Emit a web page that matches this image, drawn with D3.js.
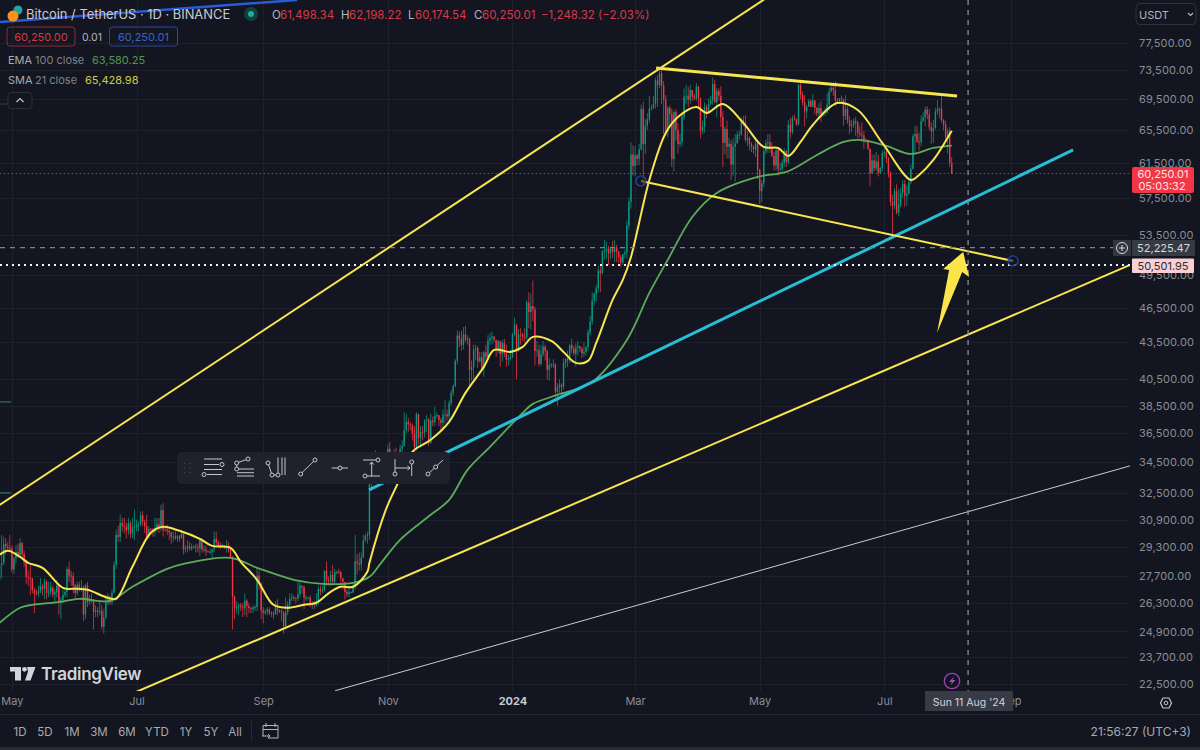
<!DOCTYPE html>
<html>
<head>
<meta charset="utf-8">
<title>Bitcoin / TetherUS 1D</title>
<script src="https://cdn.jsdelivr.net/npm/d3@7/dist/d3.min.js"></script>
<style>
  html, body { margin: 0; padding: 0; background: #131620; overflow: hidden; }
  text { font-family: Inter, Roboto, sans-serif; }
</style>
</head>
<body>
<svg id="chart" width="1200" height="750"></svg>
<script>
// Daily candles from 25 Apr 2023 to 3 Aug 2024, quoted in hundreds of USDT.
const firstDay = Date.UTC(2023, 3, 25);
const firstOpen = 275.1;
const closes = [
  283,284.2,294.7,293.4,292.4,292.3,
  280.7,286.7,290.3,288.5,295.3,289,284.5,276.6,276.3,275.9,269.7,268,267.8,269.3,271.7,270.3,274,268.3,268.9,271,267.5,268.5,272.2,263.3,264.7,267.2,268.7,280.8,277.4,277,272.1,
  268.2,272.5,270.7,271.2,257.3,272.3,263.4,265,264.8,258.5,259.2,259,259,251.2,255.8,263.3,265.1,263.4,268.4,283.1,300,298.9,306.9,305.3,304.7,302.7,306.9,300.8,304.5,304.7,
  305.9,306.2,311.6,307.7,305.1,298.9,303.5,302.9,301.7,304.1,306.2,303.8,314.7,303.1,303,302.5,301.4,298.6,299.1,298,299.1,298,300.8,291.8,292.3,293.5,292.1,293.2,293.5,292.8,292.3,
  297,291.7,291.8,290.7,290.4,290.4,291.8,297.7,295.6,294.3,294,294.2,292.8,294,291.7,287.3,266.2,260.5,260.9,261.9,261.2,260.4,264.3,261.6,260.5,260,260.9,261,277.3,273,259.3,
  258,258.7,259.7,258.1,257.8,257.5,262.4,259,258.9,258.3,251.6,258.4,262.2,265.3,266,265.7,265.3,267.6,272.1,271.3,265.7,265.8,265.8,262.5,263,262.1,263.5,270.3,269.1,269.7,
  279.9,275,274.3,277.8,274.1,279.3,279.5,279.2,275.9,273.9,268.8,267.6,268.6,268.6,271.5,285,284,283.3,287.2,296.8,299.2,299.9,330.8,339,345,341.5,339,340.9,345.3,344.8,346.4,
  354.2,349.4,347.3,350.8,350.5,350.5,354.2,356.2,367,373.1,371.3,370.6,364.9,355.5,378.8,361.6,366,365.7,373.6,374.8,358.1,374.1,372.9,377.2,377.9,374.5,372.4,378.2,378.5,377.1,
  386.9,394.6,399.7,419.8,440.8,437.7,432.9,441.7,437.2,437.9,412.4,414.5,428.9,430.2,419.4,422.6,413.7,426.6,422.7,436.5,438.6,439.9,437.2,430.1,435.8,425.2,434.4,425.8,420.7,421.4,422.8,
  441.8,449.5,428.5,441.8,441.6,439.7,439.3,469.7,461.2,466.5,463.4,427.8,428.4,417.3,425.1,431.4,427.7,412.6,416.2,416.7,416.9,395.3,399,400.8,399.3,418.1,421.2,420.3,433,429.5,425.8,
  430.8,431.9,429.9,425.8,427,430.9,443.4,452.9,471.3,477.5,482.9,499.6,497,518.3,519.1,521.2,516.4,521.4,517.8,522.6,518.5,513,507.3,515.7,517.3,544.8,570.4,625,611.3,
  623.9,619.9,631.3,682.5,638,660.7,668.7,683,683.6,689.5,721,714.5,730.7,713.8,695,653,683.9,676,619.4,678.4,655,638,640.4,672.1,698.8,699.9,694.5,707.8,698.9,696.5,712.8,
  696.5,654.6,659.6,684.9,678.2,689,693.6,716.2,691.5,706.3,700.1,671.9,639.2,656.6,634.2,637.9,612.8,634.7,638.2,649.4,649.4,668.4,664.1,642.8,645,637.7,634.6,631.2,638.4,606.4,
  582.5,591.2,628.9,638.9,640.3,631.6,623.3,611.9,630.5,607.9,608.2,614.8,629.4,615.8,662.1,652.3,670.5,669.2,662.7,714.5,701.3,691.2,679.3,685.2,692.9,685.1,693.9,683.7,676.4,683.6,674.9,
  677.5,677.6,688,705.7,710.8,707.6,693.5,693.1,696.5,695,673.2,682.4,667.5,660.1,661.9,666.4,664.9,651.5,649.6,648.3,641,642.6,632.1,602.8,618,608.6,616.7,603.2,608.9,626.8,
  627.7,620.3,602,570.4,566.3,582.3,558.6,567.1,580.5,590.6,577.2,579,592.3,608,647.2,650.4,640.9,639.9,666.6,671.5,681.6,675.3,659.3,653.7,657.8,679,682.4,682.4,667.8,661.9,646.2,
  653.5,614.9834,602.5001
];
const highs = [
  284,300,299,298,296,300,
  294,288,294,295,298,296,291,285,280,283,276,271,270,272,276,273,276,275,274,274,272,270,275,273,266,270,270,282,285,280,279,
  273,274,274,275,272,273,274,267,268,265,262,261,264,262,260,267,268,267,270,285,303,305,312,310,310,307,310,308,310,315,
  309,308,314,314,309,312,305,304,304,310,310,310,318,319,304,306,303,302,302,302,300,300,303,300,294,297,296,295,294,295,295,
  298,298,294,294,291,292,292,302,302,297,296,295,294,297,296,292,288,267,264,263,263,263,268,265,263,261,262,262,282,280,274,
  261,260,261,261,259,259,264,265,260,260,259,266,264,268,268,267,266,274,275,272,272,267,266,267,264,264,268,272,272,272,
  280,285,277,280,283,281,280,281,280,276,274,270,272,269,273,300,289,290,290,300,301,302,340,350,349,353,343,343,349,350,347,
  357,359,350,354,355,352,357,360,380,379,376,373,372,370,380,379,370,370,375,378,376,379,377,384,380,378,376,382,389,382,
  389,397,401,421,445,444,445,448,449,441,439,420,433,433,432,427,427,428,433,441,443,444,440,437,437,436,437,438,433,425,429,
  443,456,451,446,447,443,447,472,479,478,490,466,436,433,433,436,433,429,422,418,421,418,402,405,402,422,422,428,433,438,432,
  434,436,432,431,435,432,446,458,479,479,486,504,506,520,530,528,524,522,529,530,525,518,515,516,520,550,575,640,636,
  635,626,638,688,692,670,677,700,688,700,725,729,735,737,720,701,686,687,683,680,682,664,651,677,710,715,712,715,708,702,717,
  713,698,667,691,688,696,700,725,722,710,710,713,680,660,667,645,642,645,650,654,654,671,673,674,654,647,640,636,645,642,
  608,595,633,643,650,650,640,628,631,634,615,619,633,630,668,671,674,675,670,716,720,706,701,688,696,695,702,693,685,690,693,
  680,684,703,711,718,716,720,697,697,700,696,701,686,673,668,670,672,667,660,665,654,645,643,632,625,625,628,625,610,630,
  632,630,622,605,578,586,590,584,586,595,595,589,596,613,650,661,660,652,674,678,685,686,682,665,668,684,694,685,700,669,667,
  657,659,621.9822
];
const lows = [
  275,276,283,289,291,291,
  279,278,284,287,288,286,282,273,272,267,268,258,267,266,268,267,265,265,266,267,266,263,266,257,255,263,266,266,274,272,268,
  265,267,269,269,254,255,261,262,263,250,256,256,257,250,248,255,262,262,262,268,281,296,296,302,301,298,300,298,298,297,
  302,302,305,305,301,297,298,300,299,299,302,301,302,299,302,300,297,295,296,297,296,296,298,289,290,290,291,291,292,290,290,
  288,290,290,288,290,289,287,290,293,293,292,293,292,290,290,287,250,255,258,257,259,256,257,256,258,258,258,259,259,270,255,
  253,257,257,257,256,255,257,257,258,254,248,250,257,261,264,264,263,264,266,268,260,264,265,261,260,260,261,262,267,268,
  269,272,272,272,272,273,278,278,272,270,265,266,266,268,268,270,278,280,280,287,296,295,297,327,335,333,336,337,339,340,341,
  342,345,340,345,346,345,348,351,356,365,366,367,360,352,353,357,355,360,362,366,356,358,370,370,376,370,366,367,372,374,
  374,385,392,399,417,431,428,429,435,433,400,404,405,420,414,418,412,407,420,421,433,433,435,423,426,415,419,423,415,416,420,
  422,440,405,427,433,436,435,437,447,446,453,416,423,415,416,423,420,405,404,414,414,391,385,394,392,397,414,415,418,426,424,
  415,424,427,422,423,424,428,441,450,467,471,479,479,496,510,511,505,511,512,508,508,507,503,505,512,511,541,563,600,
  600,612,612,630,590,626,655,665,680,682,683,685,710,689,650,648,646,660,610,605,642,626,634,635,668,689,685,689,693,694,693,
  682,645,650,652,670,676,687,688,690,672,694,659,610,625,620,620,595,600,593,639,643,648,660,640,635,630,628,626,622,596,
  568,570,587,625,627,627,622,606,606,600,603,605,610,610,613,645,650,667,660,661,695,687,660,670,688,685,685,675,673,670,665,
  672,673,676,680,705,700,686,691,692,690,661,668,663,650,653,658,648,645,646,640,632,639,630,588,603,605,606,599,605,605,
  622,615,598,566,535,562,557,555,565,575,565,566,579,590,607,628,639,630,635,665,660,669,655,638,639,656,675,670,665,655,643,
  626,610,601.7454
];

// SMA 21 and EMA 100, read as (day number, price) pairs.
const smaDays = [0,4,10,14,21,31,38,43,53,57,65,74,80,88,98,104,113,118,126,134,141,149,155,162,167,173,180,181,189,195,202,211,220,228,237,242,250,256,261,270,276,282,288,292,300,305,309,318,326,332,341,346,354,364,374,381,386,392,398,410,420,432,446,450,457,466];
const smaPrices = [28869,29092,28757,28427,28154,27089,27037,26985,26572,26521,28208,30120,30471,30237,29774,29374,29261,28482,27511,26216,26064,26216,26317,26881,27142,27142,27938,28427,31487,33170,35214,36039,37312,39458,41486,42869,42704,43118,43958,43620,42704,41808,41970,43452,47209,49066,51292,59503,65149,67190,68500,67711,68897,66418,63414,63292,62323,64028,66163,69030,68103,63905,59503,60080,61844,65428.98];
const emaDays = [0,10,16,30,39,54,65,82,90,113,126,144,158,173,181,186,196,211,220,229,240,256,261,273,290,307,318,327,339,351,371,385,400,413,421,434,446,457,466];
const emaPrices = [25321,26064,26216,26368,26521,26419,27142,28100,28372,28703,28154,27511,27299,27352,27670,28317,29717,31185,32100,34012,35556,37964,38630,39306,40304,43704,47851,50996,55406,58030,59849,60430,62443,64028,64275,63535,62564,63292,63580.25];

// Trend lines and channels: start day, start price, end day, end price.
const upperChannel = [0, 31792, 377.1, 84940];
const lowerChannel = [65.3, 22102, 553.3, 50501.95];
const outerLine = [164.2, 22210, 553.3, 34275];
const supportLine = [180.8, 32725, 525.4, 63048];
const wedgeTop = [321.3, 73851, 468.6, 69968];
const wedgeBottom = [313.9, 59389, 496, 50898];
const oldBlueLine = [0, 80700, 145.6, 84200];
const oldLevelA = [0, 38779, 5.6, 38779];
const oldLevelB = [0, 32536, 5.6, 32536];

// Arrow annotation outline as (day, price) vertices.
const arrowDays = [471.6, 474.5, 471.1, 458.8, 464.7, 461.8];
const arrowPrices = [51790, 49351, 49829, 44298, 50022, 50119];

const lastPrice = 60250.01;
const crosshairPrice = 52225.47;
const alertPrice = 50501.95;
const crosshairDay = 474;

const priceTicks = [77500,73500,69500,65500,61500,57500,53500,49500,46500,43500,40500,38500,36500,34500,32500,30900,29300,27700,26300,24900,23700,22500];
const monthTicks = [[2023,4,"May"],[2023,6,"Jul"],[2023,8,"Sep"],[2023,10,"Nov"],[2024,0,"2024"],[2024,2,"Mar"],[2024,4,"May"],[2024,6,"Jul"],[2024,8,"Sep"]];
const rangeTabs = [["1D",20],["5D",45],["1M",72],["3M",99],["6M",127],["YTD",157],["1Y",186],["5Y",211],["All",235]];

if (highs.length !== closes.length || lows.length !== closes.length) {
  throw new Error(`series lengths ${closes.length} ${highs.length} ${lows.length}`);
}

const dayMs = 86400000;
const dayToDate = d => new Date(firstDay + d * dayMs);
const plotRight = 1130, plotBottom = 691;

const x = d3.scaleUtc().domain([dayToDate(0), new Date(Date.UTC(2024, 8, 1))]).range([-0.38, 1011]);
const y = d3.scaleLog().domain([22500, 77500]).range([684, 43]);
const xd = d => x(dayToDate(d));

const candles = closes.map((c, i) => ({
  day: i,
  open: (i ? closes[i - 1] : firstOpen) * 100,
  close: c * 100,
  high: highs[i] * 100,
  low: lows[i] * 100
}));

const UP = "#089981", DOWN = "#f23645", YELLOW = "#f7e64f", GREEN = "#5cab5a";
const BG = "#131620", GRID = "#1e212c", MUTED = "#8a8d96";

const svg = d3.select("#chart");
svg.append("rect").attr("width", 1200).attr("height", 750).attr("fill", BG);
svg.append("defs").append("clipPath").attr("id", "plot")
  .append("rect").attr("width", plotRight).attr("height", plotBottom);

// Grid
const gridG = svg.append("g").attr("stroke", GRID).attr("stroke-width", 1);
gridG.selectAll("line.h").data(priceTicks).join("line").attr("class", "h")
  .attr("x1", 0).attr("x2", plotRight)
  .attr("y1", d => Math.round(y(d)) + .5).attr("y2", d => Math.round(y(d)) + .5);
gridG.selectAll("line.v").data(monthTicks).join("line").attr("class", "v")
  .attr("x1", d => Math.round(x(new Date(Date.UTC(d[0], d[1], 1)))) + .5)
  .attr("x2", d => Math.round(x(new Date(Date.UTC(d[0], d[1], 1)))) + .5)
  .attr("y1", 0).attr("y2", plotBottom);

const plot = svg.append("g").attr("clip-path", "url(#plot)");

// Old levels and long-range line sitting behind everything else
function segment(parent, seg, color, width, extra) {
  const sel = parent.append("line")
    .attr("x1", xd(seg[0])).attr("y1", y(seg[1]))
    .attr("x2", xd(seg[2])).attr("y2", y(seg[3]))
    .attr("stroke", color).attr("stroke-width", width);
  if (extra) sel.attr("stroke-dasharray", extra);
  return sel;
}
segment(plot, oldLevelA, "#2b615e", 1.5);
segment(plot, oldLevelB, "#2b615e", 1.5);
segment(plot, oldBlueLine, "#2a5bd7", 2.5);

// Last price level
segment(plot, [0, lastPrice, 1130 / 2.043, lastPrice], "#a33a48", 1, "1.5 2.5");

// Candles
const candleG = plot.append("g");
candleG.selectAll("rect.wick").data(candles).join("rect").attr("class", "wick")
  .attr("x", d => xd(d.day) - .4).attr("width", .8)
  .attr("y", d => y(d.high)).attr("height", d => Math.max(.5, y(d.low) - y(d.high)))
  .attr("fill", d => d.close >= d.open ? UP : DOWN).attr("opacity", .9);
candleG.selectAll("rect.body").data(candles).join("rect").attr("class", "body")
  .attr("x", d => xd(d.day) - .7).attr("width", 1.4)
  .attr("y", d => y(Math.max(d.open, d.close)))
  .attr("height", d => Math.max(1, Math.abs(y(d.open) - y(d.close))))
  .attr("fill", d => d.close >= d.open ? UP : DOWN);

// Moving averages
const maLine = d3.line().x(d => xd(d[0])).y(d => y(d[1])).curve(d3.curveCatmullRom.alpha(.5));
plot.append("path").attr("d", maLine(d3.zip(emaDays, emaPrices)))
  .attr("fill", "none").attr("stroke", GREEN).attr("stroke-width", 1.8);
plot.append("path").attr("d", maLine(d3.zip(smaDays, smaPrices)))
  .attr("fill", "none").attr("stroke", YELLOW).attr("stroke-width", 2);

// Drawn trend lines
segment(plot, outerLine, "#c9cbd1", 1);
segment(plot, upperChannel, YELLOW, 2);
segment(plot, lowerChannel, YELLOW, 2);
segment(plot, supportLine, "#27bdd4", 3);
segment(plot, wedgeTop, YELLOW, 3);
segment(plot, wedgeBottom, YELLOW, 2);

// Crosshair, alert line
plot.append("line").attr("x1", 0).attr("x2", 1114)
  .attr("y1", y(crosshairPrice)).attr("y2", y(crosshairPrice))
  .attr("stroke", "#7f828b").attr("stroke-width", 1.2).attr("stroke-dasharray", "5 5");
plot.append("line").attr("x1", 0).attr("x2", plotRight)
  .attr("y1", y(alertPrice)).attr("y2", y(alertPrice))
  .attr("stroke", "#f2f3f5").attr("stroke-width", 2).attr("stroke-dasharray", "2 4");
plot.append("line").attr("x1", xd(crosshairDay)).attr("x2", xd(crosshairDay))
  .attr("y1", 0).attr("y2", plotBottom)
  .attr("stroke", "#8a8d96").attr("stroke-width", 1.3).attr("stroke-dasharray", "5 5");

// Wedge end handles
[[wedgeBottom[0], wedgeBottom[1]], [wedgeBottom[2], wedgeBottom[3]]].forEach(p => {
  plot.append("circle").attr("cx", xd(p[0])).attr("cy", y(p[1])).attr("r", 5)
    .attr("fill", BG).attr("fill-opacity", .6).attr("stroke", "#2447a8").attr("stroke-width", 1.3);
});

// Arrow annotation
plot.append("polygon")
  .attr("points", d3.zip(arrowDays, arrowPrices).map(p => `${xd(p[0])},${y(p[1])}`).join(" "))
  .attr("fill", "#fbe54a");

// Price axis
const yAxis = d3.axisRight(y).tickValues(priceTicks).tickFormat(d3.format(",.2f")).tickSize(0).tickPadding(0);
const yAxisG = svg.append("g").attr("transform", "translate(1139,0)").call(yAxis);
yAxisG.select(".domain").remove();
yAxisG.selectAll("text").attr("fill", MUTED).attr("font-size", 11).attr("font-family", "Inter, Roboto, sans-serif").attr("letter-spacing", .15);

// Time axis
const xAxis = d3.axisBottom(x)
  .tickValues(monthTicks.map(d => new Date(Date.UTC(d[0], d[1], 1))))
  .tickFormat((_, i) => monthTicks[i][2]).tickSize(0).tickPadding(0);
const xAxisG = svg.append("g").attr("transform", "translate(0,697)").call(xAxis);
xAxisG.select(".domain").remove();
xAxisG.selectAll("text").attr("fill", MUTED).attr("font-size", 11).attr("font-family", "Inter, Roboto, sans-serif")
  .attr("font-weight", (_, i) => monthTicks[i][2] === "2024" ? 700 : 400)
  .filter((_, i) => monthTicks[i][2] === "2024").attr("fill", "#c7c9d0");

function label(text, px, py, size, color, anchor, weight) {
  return svg.append("text").text(text).attr("x", px).attr("y", py)
    .attr("font-size", size).attr("fill", color)
    .attr("text-anchor", anchor || "start").attr("font-weight", weight || 400);
}

// Price tags on the right edge
svg.append("rect").attr("x", 1132).attr("y", 167).attr("width", 62).attr("height", 26).attr("rx", 2).attr("fill", "#f23645");
label(d3.format(",.2f")(lastPrice), 1163, 178, 11, "#f5e6e8", "middle");
label("05:03:32", 1162, 190, 11, "#f5e6e8", "middle");
svg.append("rect").attr("x", 1113).attr("y", 240).attr("width", 18).attr("height", 16).attr("fill", "#333640");
svg.append("circle").attr("cx", 1122).attr("cy", 248).attr("r", 5.5).attr("fill", "none").attr("stroke", "#d6d8dd").attr("stroke-width", 1);
svg.append("path").attr("d", "M1119 248H1125M1122 245V251").attr("stroke", "#d6d8dd").attr("stroke-width", 1);
svg.append("rect").attr("x", 1132).attr("y", 240).attr("width", 63).attr("height", 16).attr("fill", "#363a45");
label(d3.format(",.2f")(crosshairPrice), 1163.5, 252, 11, "#d6d8dd", "middle");
svg.append("rect").attr("x", 1132).attr("y", 258.5).attr("width", 62).attr("height", 14.5).attr("rx", 1).attr("fill", "#f9cfd3");
label(d3.format(",.2f")(alertPrice), 1163, 270, 11, "#2a2e39", "middle");

// Currency selector
svg.append("rect").attr("x", 1136).attr("y", 3.5).attr("width", 60).attr("height", 21).attr("rx", 4)
  .attr("fill", "none").attr("stroke", "#2e323d");
label("USDT", 1139, 18.5, 11, "#b2b5be");
svg.append("path").attr("d", "M1188 13L1190.5 15.5L1193 13").attr("fill", "none").attr("stroke", "#b2b5be").attr("stroke-width", 1.2);

// Drawing toolbar
const tb = svg.append("g");
tb.append("rect").attr("x", 177).attr("y", 452).attr("width", 273).attr("height", 32).attr("rx", 5).attr("fill", "#1f222c");
[463.5, 468, 472.5].forEach(gy => [185, 190].forEach(gx => {
  tb.append("circle").attr("cx", gx).attr("cy", gy).attr("r", .7).attr("fill", "#4a4d57");
}));
const iconPaths = [
  "M204 459H222M204 464.5H219M204 469.5H222M207 474.5H222",
  "M236.7 463L248 459M236.7 463V469M237 469H254M237 472.7H254M237 476H254",
  "M268 463L272 475L278 475M278 457.5V475M282 457.5V475M285 457.5V475",
  "M300.7 474L315 460",
  "M331.7 468H348",
  "M363 460H378M365 476H380M371.7 476V462M369.7 464.5L371.7 462L373.7 464.5",
  "M395 459V474M411.7 462V476M395 468H410M407.5 466L410 468L407.5 470",
  "M428 474L443 460"
];
tb.selectAll("path").data(iconPaths).join("path").attr("d", d => d)
  .attr("fill", "none").attr("stroke", "#c4c6cc").attr("stroke-width", 1);
const iconDots = [[222,464.5],[204,474.5],[236.7,463],[248,459],[236.7,469],[268,463],[272,475],[278,475],[300.7,474],[315,460],[340,468],[378,460],[365,476],[395,474],[411.7,462],[428,474],[435.7,467]];
tb.selectAll("circle.d").data(iconDots).join("circle").attr("class", "d")
  .attr("cx", d => d[0]).attr("cy", d => d[1]).attr("r", 2)
  .attr("fill", "#1f222c").attr("stroke", "#c4c6cc").attr("stroke-width", 1);

// Watermark
const wm = svg.append("g").attr("fill", "#d1d4dc");
wm.append("path").attr("d", "M10 667H21V680.5H15V671.5H10ZM27 667H35.5L30.5 680.5H25L28 671.5Z");
wm.append("circle").attr("cx", 24.5).attr("cy", 669.3).attr("r", 2.4);
label("TradingView", 41, 679.5, 17, "#d1d4dc", "start", 600).attr("letter-spacing", -.3);

// Header
const head = svg.append("g");
head.append("circle").attr("cx", 18).attr("cy", 10).attr("r", 4.5).attr("fill", "#1fa5a0");
head.append("circle").attr("cx", 13).attr("cy", 16).attr("r", 5.5).attr("fill", "#f7931a");
label("Bitcoin / TetherUS · 1D · BINANCE", 26, 18.5, 12.9, "#c9cbd2");
head.append("circle").attr("cx", 251).attr("cy", 14).attr("r", 7).attr("fill", "#12403f");
head.append("circle").attr("cx", 251).attr("cy", 14).attr("r", 3).attr("fill", "#22ab94");
const ohlc = [["O","61,498.34",272,280],["H","62,198.22",341,349],["L","60,174.54",408,415],["C","60,250.01",474,482]];
ohlc.forEach(o => {
  label(o[0], o[2], 18.5, 11.5, "#b2b5be");
  label(o[1], o[3], 18.5, 11.5, "#d9394a");
});
label("−1,248.32 (−2.03%)", 541, 18.5, 11.5, "#d9394a");

svg.append("rect").attr("x", 7).attr("y", 27).attr("width", 68).attr("height", 19).attr("rx", 3).attr("fill", "none").attr("stroke", "#8f2a38");
label("60,250.00", 41, 41, 11, "#d43a4b", "middle");
label("0.01", 92, 41, 10.5, "#b2b5be", "middle");
svg.append("rect").attr("x", 109.5).attr("y", 27).attr("width", 68).attr("height", 19).attr("rx", 3).attr("fill", "none").attr("stroke", "#28479f");
label("60,250.01", 143.5, 41, 11, "#3b62c9", "middle");

label("EMA", 8, 64, 11, "#a8abb3");
label("100 close", 35, 64, 11, "#7f828b");
label("63,580.25", 92, 64, 11, "#4a9a50");
label("SMA", 8, 84, 11, "#a8abb3");
label("21 close", 35, 84, 11, "#7f828b");
label("65,428.98", 85, 84, 11, "#d6c94a");

svg.append("path").attr("d", "M0 104H8").attr("stroke", "#3a3d47");
svg.append("rect").attr("x", 8).attr("y", 92.5).attr("width", 24).attr("height", 16).attr("rx", 3).attr("fill", BG).attr("stroke", "#2b2e38");
svg.append("path").attr("d", "M16.5 102L20 98.5L23.5 102").attr("fill", "none").attr("stroke", "#c4c6cc").attr("stroke-width", 1.2);

// Event marker and crosshair date
svg.append("circle").attr("cx", 952).attr("cy", 681).attr("r", 7.7).attr("fill", BG).attr("stroke", "#9c3fb5").attr("stroke-width", 1.3);
svg.append("path").attr("d", "M954 676.5L949 682H952L950.5 685.5L955.5 680H952.5Z").attr("fill", "#a54cc0");
svg.append("rect").attr("x", 925).attr("y", 691).attr("width", 88).attr("height", 20).attr("fill", "#383b45");
label("Sun 11 Aug '24", 969, 706, 10.5, "#d1d4dc", "middle");

// Bottom toolbar
svg.append("path").attr("d", "M0 714.5H1200").attr("stroke", "#262934");
label("21:56:27 (UTC+3)", 1191, 736, 12, "#a8abb3", "end");
rangeTabs.forEach(t => label(t[0], t[1], 736, 11.5, "#a8abb3", "middle"));
svg.append("path").attr("d", "M251.5 721V742").attr("stroke", "#262934");
svg.append("path").attr("d", "M263 736V725.5H278V738H268M266 723V727M275 723V727M263 729.5H278M262 736H270M268 734L270 736L268 738")
  .attr("fill", "none").attr("stroke", "#b2b5be").attr("stroke-width", 1);
svg.append("path").attr("d", "M1160.5 703L1163 698H1169L1171.5 703L1169 708H1163Z").attr("fill", "none").attr("stroke", "#c4c6cc").attr("stroke-width", 1.2);
svg.append("circle").attr("cx", 1166).attr("cy", 703).attr("r", 1.8).attr("fill", "none").attr("stroke", "#c4c6cc");
svg.append("rect").attr("y", 747).attr("width", 1200).attr("height", 3).attr("fill", "#2a2c33");
</script>
</body>
</html>
